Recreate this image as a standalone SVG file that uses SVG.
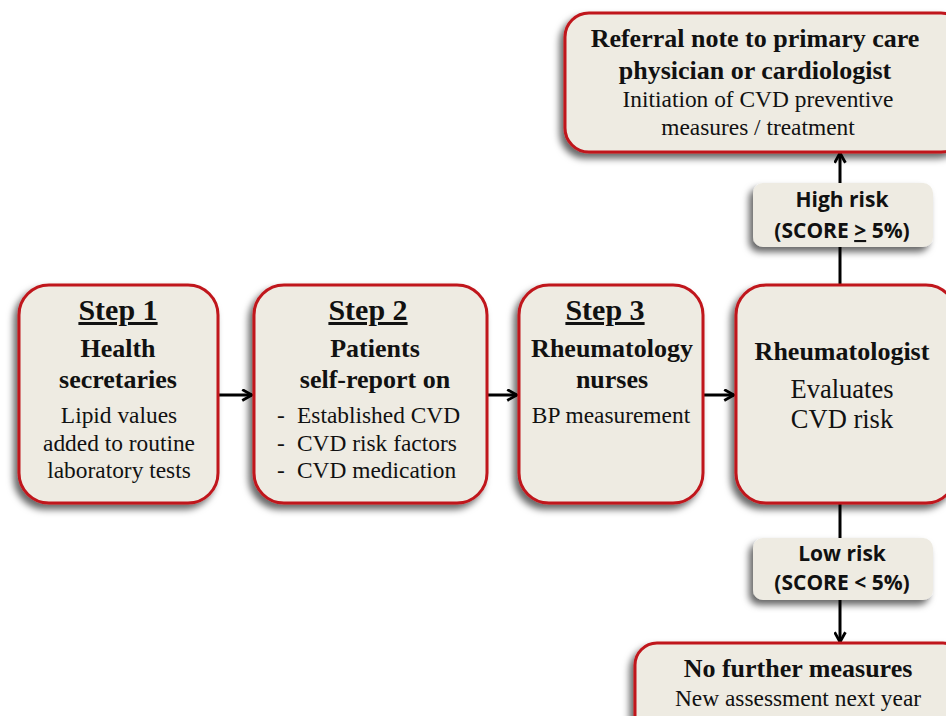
<svg xmlns="http://www.w3.org/2000/svg" width="946" height="716" viewBox="0 0 946 716">
<defs>
<filter id="sh" x="-20%" y="-20%" width="140%" height="140%">
<feDropShadow dx="-4" dy="5" stdDeviation="3.5" flood-color="#000" flood-opacity="0.6"/>
</filter>
<marker id="ah" viewBox="0 0 12 12" refX="11" refY="6" markerWidth="13" markerHeight="13" markerUnits="userSpaceOnUse" orient="auto">
<path d="M2,1 L11,6 L2,11" fill="none" stroke="#000" stroke-width="2.6"/>
</marker>
<style>
.box{fill:#eeebe2;stroke:#c0151b;stroke-width:3;filter:url(#sh)}
.lab{fill:#eeebe2;stroke:none;filter:url(#sh)}
.ser{font-family:"Liberation Serif","Times New Roman",serif;fill:#111;text-anchor:middle}
.st{text-anchor:start}
.t{font-size:30px;font-weight:bold;text-decoration:underline}
.h{font-size:26px;font-weight:bold}
.r{font-size:23.4px}
.sans{font-family:"Open Sans","Noto Sans",sans-serif;font-weight:bold;font-size:21px;fill:#111;text-anchor:middle}
.con{stroke:#000;stroke-width:3;fill:none}
</style>
</defs>
<g id="connectors">
<line class="con" x1="218" y1="395" x2="252" y2="395" marker-end="url(#ah)"/>
<line class="con" x1="487" y1="395" x2="517" y2="395" marker-end="url(#ah)"/>
<line class="con" x1="703" y1="395" x2="734" y2="395" marker-end="url(#ah)"/>
<line class="con" x1="840" y1="285" x2="840" y2="247"/>
<line class="con" x1="840" y1="183" x2="840" y2="153" marker-end="url(#ah)"/>
<line class="con" x1="840" y1="503" x2="840" y2="538"/>
<line class="con" x1="840" y1="600" x2="840" y2="642" marker-end="url(#ah)"/>
</g>
<g id="step1">
<rect class="box" x="19" y="285" width="199" height="218" rx="30"/>
<text class="ser t" x="118" y="320">Step 1</text>
<text class="ser h" x="118" y="357">Health</text>
<text class="ser h" x="118" y="388">secretaries</text>
<text class="ser r" x="119" y="423">Lipid values</text>
<text class="ser r" x="119" y="451">added to routine</text>
<text class="ser r" x="119" y="478">laboratory tests</text>
</g>
<g id="step2">
<rect class="box" x="254" y="285" width="233" height="218" rx="30"/>
<text class="ser t" x="368" y="320">Step 2</text>
<text class="ser h" x="375" y="357">Patients</text>
<text class="ser h" x="375" y="388">self-report on</text>
<text class="ser r st" x="277" y="423">-</text>
<text class="ser r st" x="297" y="423">Established CVD</text>
<text class="ser r st" x="277" y="451">-</text>
<text class="ser r st" x="297" y="451">CVD risk factors</text>
<text class="ser r st" x="277" y="478">-</text>
<text class="ser r st" x="297" y="478">CVD medication</text>
</g>
<g id="step3">
<rect class="box" x="519" y="285" width="184" height="218" rx="30"/>
<text class="ser t" x="605" y="320">Step 3</text>
<text class="ser h" x="612" y="357" font-size="24">Rheumatology</text>
<text class="ser h" x="612" y="388">nurses</text>
<text class="ser r" x="611" y="423">BP measurement</text>
</g>
<g id="rheumatologist">
<rect class="box" x="736" y="285" width="220" height="218" rx="30"/>
<text class="ser h" x="842" y="360">Rheumatologist</text>
<text class="ser" x="842" y="398" font-size="26.5">Evaluates</text>
<text class="ser" x="842" y="428" font-size="26.5">CVD risk</text>
</g>
<g id="referral">
<rect class="box" x="565" y="13" width="400" height="139" rx="24"/>
<text class="ser h" x="755" y="47" font-size="28">Referral note to primary care</text>
<text class="ser h" x="755" y="79" font-size="28">physician or cardiologist</text>
<text class="ser r" x="758" y="107">Initiation of CVD preventive</text>
<text class="ser r" x="758" y="135">measures / treatment</text>
</g>
<g id="high-risk">
<rect class="lab" x="753" y="183" width="180" height="64" rx="10"/>
<text class="sans" x="842" y="207">High risk</text>
<text class="sans" x="842" y="238">(SCORE <tspan text-decoration="underline">&gt;</tspan> 5%)</text>
</g>
<g id="low-risk">
<rect class="lab" x="753" y="538" width="180" height="62" rx="10"/>
<text class="sans" x="842" y="561">Low risk</text>
<text class="sans" x="842" y="590">(SCORE &lt; 5%)</text>
</g>
<g id="no-further">
<rect class="box" x="635" y="643" width="330" height="100" rx="22"/>
<text class="ser h" x="798" y="677">No further measures</text>
<text class="ser r" x="798" y="706">New assessment next year</text>
</g>
</svg>
